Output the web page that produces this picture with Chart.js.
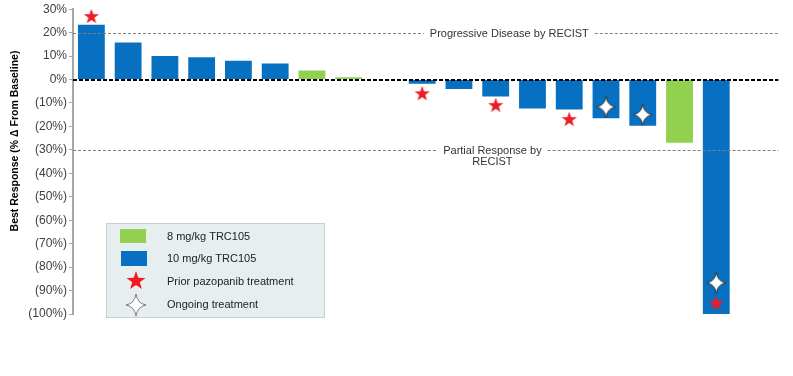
<!DOCTYPE html>
<html>
<head>
<meta charset="utf-8">
<script src="https://cdn.jsdelivr.net/npm/chart.js@4.4.0/dist/chart.umd.min.js"></script>
<style>
body{margin:0;background:#fff;}
</style>
</head>
<body>
<canvas id="mycanvas" width="793" height="376"></canvas>
<script>
// one column per patient, the last one is just spare room on the right
var patients = ['1','2','3','4','5','6','7','8','9','10','11','12','13','14','15','16','17','18',''];
var dose10 = [23.4, 15.8, 10.0, 9.5, 8.0, 6.8, null, null, null, -1.8, -4.0, -7.2, -12.4, -12.8, -16.5, -19.7, null, -100, null];
var dose8 = [null, null, null, null, null, null, 3.9, 1.0, null, null, null, null, null, null, null, null, -27.0, null, null];
var priorPazopanib = [27.1, null, null, null, null, null, null, null, null, -5.8, null, -10.8, null, -16.8, null, null, null, -95.2, null];
var ongoing = [null, null, null, null, null, null, null, null, null, null, null, null, null, null, -11.7, -15.0, null, -86.7, null];
var yMin = -100, yMax = 30, yStep = 10;
var refLines = [
	{value: 20, text: ['Progressive Disease by RECIST'], at: 11.37},
	{value: -30, text: ['Partial Response by', 'RECIST'], at: 10.91}
];

function makeStar5(size, color){
	var c = document.createElement('canvas');
	c.width = size; c.height = size;
	var g = c.getContext('2d');
	var cx = size/2, cy = size/2 + size*0.05, R = size/2, r = R*0.4;
	g.beginPath();
	for(var i = 0; i < 10; i++){
		var a = -Math.PI/2 + i*Math.PI/5;
		var rad = (i % 2) ? r : R;
		g.lineTo(cx + rad*Math.cos(a), cy + rad*Math.sin(a));
	}
	g.closePath();
	g.fillStyle = color;
	g.fill();
	return c;
}

function makeStar4(w, h, stroke){
	var c = document.createElement('canvas');
	c.width = w; c.height = h;
	var g = c.getContext('2d');
	var cx = w/2, cy = h/2, rx = w/2 - 1, ry = h/2 - 1, k = 0.14;
	g.beginPath();
	g.moveTo(cx, cy - ry);
	g.quadraticCurveTo(cx + rx*k, cy - ry*k, cx + rx, cy);
	g.quadraticCurveTo(cx + rx*k, cy + ry*k, cx, cy + ry);
	g.quadraticCurveTo(cx - rx*k, cy + ry*k, cx - rx, cy);
	g.quadraticCurveTo(cx - rx*k, cy - ry*k, cx, cy - ry);
	g.closePath();
	g.fillStyle = '#ffffff';
	g.fill();
	g.strokeStyle = stroke;
	g.lineWidth = 1;
	g.stroke();
	return c;
}

var redStar = makeStar5(16, '#ee1c25');
var whiteStar = makeStar4(21, 23, '#2a2a2a');
var redStarBig = makeStar5(20, '#ee1c25');
var whiteStarBig = makeStar4(22, 24, '#7a7a7a');

Chart.defaults.font.family = '"Liberation Sans", Arial, sans-serif';

var linesPlugin = {
	id: 'linesPlugin',
	afterDatasetsDraw: function(chart){
		var ctx = chart.ctx, a = chart.chartArea, y = chart.scales.y, x = chart.scales.x;
		var right = a.right + 7;
		ctx.save();
		ctx.font = '11px "Liberation Sans", Arial, sans-serif';
		refLines.forEach(function(l){
			var py = Math.round(y.getPixelForValue(l.value)) + 0.5;
			var cx = x.getPixelForValue(l.at);
			var w = 0;
			l.text.forEach(function(t){ w = Math.max(w, ctx.measureText(t).width); });
			var gapL = cx - w/2 - 6, gapR = cx + w/2 + 6;
			ctx.strokeStyle = '#7f7f7f';
			ctx.lineWidth = 1;
			ctx.setLineDash([3, 2]);
			ctx.beginPath();
			ctx.moveTo(a.left, py); ctx.lineTo(gapL, py);
			ctx.moveTo(gapR, py); ctx.lineTo(right, py);
			ctx.stroke();
			ctx.setLineDash([]);
			ctx.fillStyle = '#333333';
			ctx.textAlign = 'center';
			ctx.textBaseline = 'middle';
			l.text.forEach(function(t, i){ ctx.fillText(t, cx, py + i*11); });
		});
		// zero line
		var zy = Math.round(y.getPixelForValue(0));
		ctx.strokeStyle = '#000000';
		ctx.lineWidth = 2;
		ctx.setLineDash([4, 2]);
		ctx.beginPath();
		ctx.moveTo(a.left, zy); ctx.lineTo(right, zy);
		ctx.stroke();
		ctx.restore();
	},
	afterDraw: function(chart){
		var ctx = chart.ctx, a = chart.chartArea;
		ctx.save();
		// y title
		ctx.translate(15, 141);
		ctx.rotate(-Math.PI/2);
		ctx.font = 'bold 10.5px "Liberation Sans", Arial, sans-serif';
		ctx.fillStyle = '#000000';
		ctx.textAlign = 'center';
		ctx.textBaseline = 'middle';
		ctx.fillText('Best Response (% \u0394 From Baseline)', 0, 0);
		ctx.restore();

		// legend box
		var ds = chart.data.datasets;
		var bx = 106, by = 223, bw = 219, bh = 95;
		ctx.save();
		ctx.fillStyle = '#e7eef0';
		ctx.strokeStyle = '#c3cfd3';
		ctx.lineWidth = 1;
		ctx.fillRect(bx, by, bw, bh);
		ctx.strokeRect(bx + 0.5, by + 0.5, bw - 1, bh - 1);
		ctx.font = '11px "Liberation Sans", Arial, sans-serif';
		ctx.textBaseline = 'middle';
		ctx.textAlign = 'left';
		var rows = [237, 259, 282, 305];
		ctx.fillStyle = ds[0].backgroundColor;
		ctx.fillRect(120, 229, 26, 14);
		ctx.fillStyle = ds[1].backgroundColor;
		ctx.fillRect(121, 251, 26, 15);
		ctx.drawImage(redStarBig, 136 - 10, 280 - 10);
		ctx.drawImage(whiteStarBig, 136 - 11, 305 - 12);
		ctx.fillStyle = '#222222';
		ds.forEach(function(d, i){ ctx.fillText(d.label, 167, rows[i]); });
		ctx.restore();
	}
};

var ctx = document.getElementById('mycanvas');

var chartdata = {
	labels: patients,
	datasets: [
		{
			type: 'bar',
			label: '8 mg/kg TRC105',
			data: dose8,
			backgroundColor: '#92d050',
			grouped: false,
			barPercentage: 0.73,
			categoryPercentage: 1,
			order: 3
		},
		{
			type: 'bar',
			label: '10 mg/kg TRC105',
			data: dose10,
			backgroundColor: '#0870c0',
			grouped: false,
			barPercentage: 0.73,
			categoryPercentage: 1,
			order: 3
		},
		{
			type: 'line',
			label: 'Prior pazopanib treatment',
			data: priorPazopanib,
			showLine: false,
			pointStyle: redStar,
			order: 1
		},
		{
			type: 'line',
			label: 'Ongoing treatment',
			data: ongoing,
			showLine: false,
			pointStyle: whiteStar,
			order: 1
		}
	]
};

var waterfall = new Chart(ctx, {
	data: chartdata,
	options: {
		responsive: false,
		animation: false,
		layout: {padding: {top: 6, bottom: 62, left: 0, right: 21.6}},
		plugins: {legend: {display: false}, tooltip: {enabled: false}},
		scales: {
			x: {display: false},
			y: {
				min: yMin,
				max: yMax,
				afterFit: function(s){ s.width = 73; },
				ticks: {
					stepSize: yStep,
					padding: 2,
					color: '#404040',
					font: {size: 12},
					callback: function(v){ return v < 0 ? '(' + (-v) + '%)' : v + '%'; }
				},
				grid: {drawOnChartArea: false, drawTicks: true, tickLength: 4, color: '#a6a6a6'},
				border: {display: true, color: '#a6a6a6', width: 2}
			}
		}
	},
	plugins: [linesPlugin]
});
</script>
</body>
</html>
